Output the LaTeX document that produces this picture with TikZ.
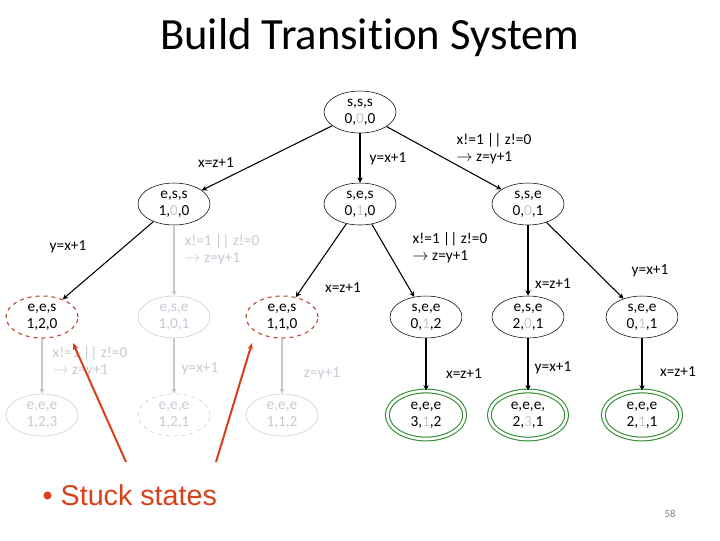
\documentclass[tikz,border=0pt]{standalone}
\usepackage{fontspec}
\setmainfont{Carlito}[Ligatures=NoCommon]
\newfontfamily\arialf{Liberation Sans}
\usetikzlibrary{arrows.meta,shapes.geometric}
\definecolor{lg}{HTML}{C8C8D4}
\definecolor{stuck}{HTML}{B5462E}
\definecolor{orr}{HTML}{D9401A}
\definecolor{grn}{HTML}{2E8B2E}
\begin{document}
\begin{tikzpicture}[x=0.75pt,y=-0.75pt,
  st/.style={ellipse,draw,minimum width=54pt,minimum height=31.5pt,inner sep=0pt,align=center,font=\fontsize{11.5}{13}\selectfont},
  gst/.style={st,draw=lg,text=lg},
  sk/.style={st,draw=stuck,dashed,thick},
  fin/.style={st,draw=grn,thick,double=white,double distance=2pt,minimum width=58pt,minimum height=36pt},
  ed/.style={-{Stealth[length=4pt,width=4pt]},thick},
  ged/.style={ed,draw=lg},
  lb/.style={font=\fontsize{11.5}{13}\selectfont,align=left},
  glb/.style={lb,text=lg}]
\useasboundingbox (0,0) rectangle (720,540);
\node[font=\fontsize{33.5}{38}\selectfont] (title) at (370,38) {Build Transition System};
\node[st] (r) at (360,112) {s,s,s\\0,{\color{lg}0},0};
\node[st] (a) at (174,204) {e,s,s\\1,{\color{lg}0},0};
\node[st] (b) at (360,204) {s,e,s\\0,{\color{lg}1},0};
\node[st] (c) at (528,204) {s,s,e\\0,{\color{lg}0},1};
\node[sk] (d) at (42,317) {e,e,s\\1,2,0};
\node[gst] (e) at (174,317) {e,s,e\\1,0,1};
\node[sk] (f) at (282,317) {e,e,s\\1,1,0};
\node[st] (g) at (426,317) {s,e,e\\0,{\color{lg}1},2};
\node[st] (h) at (528,317) {e,s,e\\2,{\color{lg}0},1};
\node[st] (i) at (642,317) {s,e,e\\0,{\color{lg}1},1};
\node[gst] (j) at (42,415) {e,e,e\\1,2,3};
\node[gst,dashed] (k) at (174,415) {e,e,e\\1,2,1};
\node[gst] (l) at (282,415) {e,e,e\\1,1,2};
\node[fin] (m) at (426,415) {e,e,e\\3,{\color{lg}1},2};
\node[fin] (n) at (528,415) {e,e,e,\\2,{\color{lg}3},1};
\node[fin] (o) at (642,415) {e,e,e\\2,{\color{lg}1},1};
\draw[ed] (r) -- (a); \draw[ed] (r) -- (b); \draw[ed] (r) -- (c);
\draw[ed] (a) -- (d); \draw[ged] (a) -- (e);
\draw[ed] (b) -- (f); \draw[ed] (b) -- (g);
\draw[ed] (c) -- (h); \draw[ed] (c) -- (i);
\draw[ged] (d) -- (j); \draw[ged] (e) -- (k); \draw[ged] (f) -- (l);
\draw[ed] (g) -- (m); \draw[ed] (h) -- (n); \draw[ed] (i) -- (o);
\node[lb] (l1) at (216,163) {x=z+1};
\node[lb] (l2) at (388,159) {y=x+1};
\node[lb] (l3) at (494,149) {x!=1 || z!=0\\$\rightarrow$ z=y+1};
\node[lb] (l4) at (68,247) {y=x+1};
\node[glb] (l5) at (222,250) {x!=1 || z!=0\\$\rightarrow$ z=y+1};
\node[lb] (l6) at (343,288) {x=z+1};
\node[lb] (l7) at (450,248) {x!=1 || z!=0\\$\rightarrow$ z=y+1};
\node[lb] (l8) at (553,284) {x=z+1};
\node[lb] (l9) at (650,271) {y=x+1};
\node[glb] (l10) at (90,362) {x!=1 || z!=0\\$\rightarrow$ z=y+1};
\node[glb] (l11) at (200,369) {y=x+1};
\node[glb] (l12) at (322,374) {z=y+1};
\node[lb] (l13) at (464,374) {x=z+1};
\node[lb] (l14) at (553,368) {y=x+1};
\node[lb] (l15) at (678,372) {x=z+1};
\coordinate (s1) at (126,462); \coordinate (s2) at (216,462);
\coordinate (t1) at (73,343); \coordinate (t2) at (252,343);
\draw[orr,line width=1.5pt,-{Stealth[length=5pt,width=4pt]}] (s1) -- (t1);
\draw[orr,line width=1.5pt,-{Stealth[length=5pt,width=4pt]}] (s2) -- (t2);
\node[text=orr,font=\arialf\fontsize{21.5}{24}\selectfont,anchor=west] (stk) at (38,495) {\textbullet\ Stuck states};
\node[font=\fontsize{8}{9}\selectfont,text=gray] (pg) at (670,514) {58};
\end{tikzpicture}
\end{document}
